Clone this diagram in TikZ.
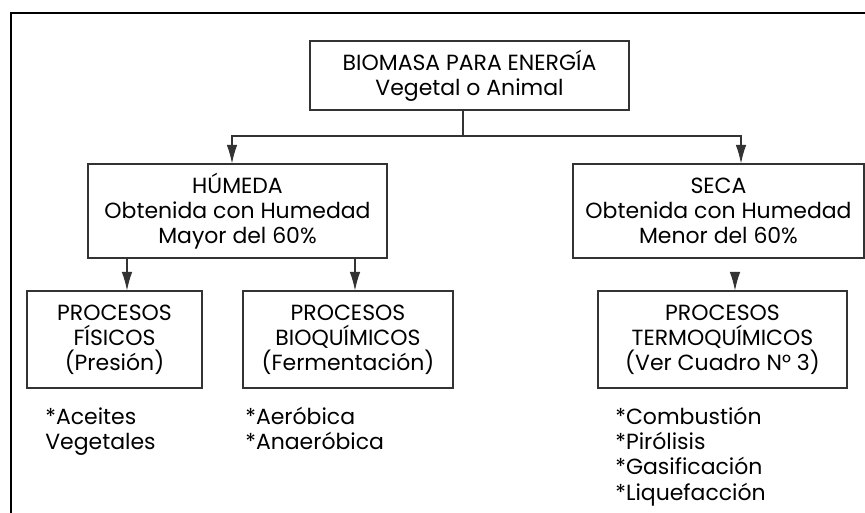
\documentclass[tikz,border=0pt]{standalone}
\usepackage{fontspec}
\setmainfont{Poppins}
\usetikzlibrary{arrows.meta}

\tikzset{
	box/.style={draw=black!80, line width=0.6pt, align=center, inner sep=0pt},
	arr/.style={draw=black!80, line width=0.6pt, -{Latex[length=0.37cm,width=0.21cm]}},
	list/.style={anchor=north west, align=left, inner sep=0pt}
}

\begin{document}
\begin{tikzpicture}[font=\fontsize{12.5}{14.3}\selectfont]
	\useasboundingbox (0,0) rectangle (17.3,-10.24);
	\draw[line width=1.7pt] (0.22,-10.4) -- (0.22,-0.26) -- (17.4,-0.26);

	\node[box, minimum width=6.38cm, minimum height=1.38cm] (biomasa) at (9.39,-1.51) {BIOMASA PARA ENERGÍA\\Vegetal o Animal};

	\node[box, minimum width=5.98cm, minimum height=1.88cm] (humeda) at (4.75,-4.22) {HÚMEDA\\Obtenida con Humedad\\Mayor del 60\%};
	\node[box, minimum width=5.82cm, minimum height=1.88cm] (seca) at (14.37,-4.22) {SECA\\Obtenida con Humedad\\Menor del 60\%};

	\node[box, minimum width=3.5cm, minimum height=1.94cm] (fisicos) at (2.29,-6.79) {PROCESOS\\FÍSICOS\\(Presión)};
	\node[box, minimum width=4.2cm, minimum height=1.94cm] (bioquimicos) at (6.96,-6.79) {PROCESOS\\BIOQUÍMICOS\\(Fermentación)};
	\node[box, minimum width=4.98cm, minimum height=1.94cm] (termo) at (14.45,-6.79) {PROCESOS\\TERMOQUÍMICOS\\(Ver Cuadro N° 3)};

	% listas bajo cada proceso
	\node[list] (aceites) at (0.9,-8.14) {*Aceites\\Vegetales};
	\node[list] (aerobica) at (4.9,-8.14) {*Aeróbica\\*Anaeróbica};
	\node[list] (combustion) at (12.3,-8.14) {*Combustión\\*Pirólisis\\*Gasificación\\*Liquefacción};

	% conectores
	\coordinate (fork) at (9.26,-2.72);
	\draw[draw=black!80, line width=0.6pt] ([xshift=-0.13cm]biomasa.south) -- (fork);
	\draw[arr] (fork) -| ([xshift=-0.11cm]humeda.north);
	\draw[arr] (fork) -| ([xshift=0.45cm]seca.north);
	\draw[arr] ([xshift=0.25cm]fisicos.north |- humeda.south) -- ([xshift=0.25cm]fisicos.north);
	\draw[arr] ([xshift=0.14cm]bioquimicos.north |- humeda.south) -- ([xshift=0.14cm]bioquimicos.north);
	\draw[arr, shorten <=0.26cm] ([xshift=0.25cm]termo.north |- seca.south) -- ([xshift=0.25cm]termo.north);
\end{tikzpicture}
\end{document}
